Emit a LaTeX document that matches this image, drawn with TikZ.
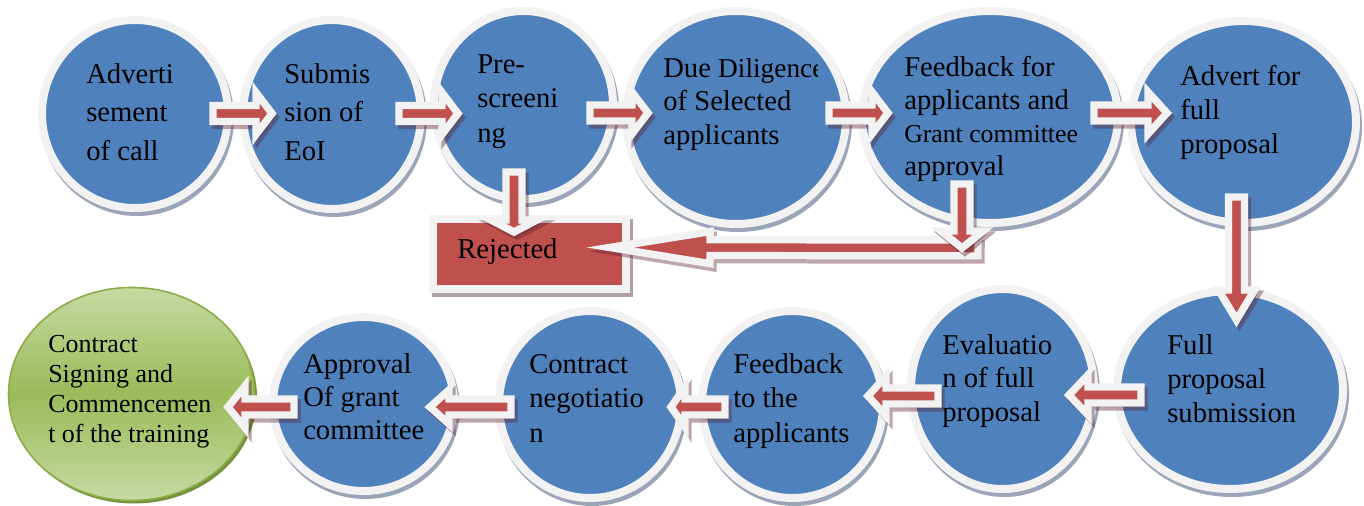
\documentclass[tikz,border=0pt]{standalone}
\usepackage{fontspec}
\setmainfont{Liberation Serif}
\usetikzlibrary{shapes.geometric,calc}
\definecolor{bblue}{HTML}{4F81BD}
\definecolor{ring}{HTML}{F2F2F2}
\definecolor{bshadow}{HTML}{9AA5B8}
\definecolor{ared}{HTML}{C0504D}
\definecolor{ashadow}{HTML}{5A2030}
\definecolor{glight}{HTML}{C6DAA2}
\definecolor{gmid}{HTML}{9BBB59}
\definecolor{gline}{HTML}{8AAD48}
\definecolor{gshadow}{HTML}{76923C}
\definecolor{rshadow}{HTML}{B3A0A0}
\tikzset{
  bub/.style={ellipse, inner sep=0pt, fill=bblue, draw=ring, line width=6pt},
  gbub/.style={ellipse, inner sep=0pt, top color=glight, bottom color=glight, middle color=gmid, draw=gline, line width=1.2pt},
  rejbox/.style={rectangle, inner sep=0pt, fill=ared, draw=ring, line width=6pt, minimum width=144.75pt, minimum height=52.5pt},
  arrowbody/.style={fill=ared, draw=ring, line width=5.6pt, line join=miter, miter limit=12},
  arrowshadow/.style={fill=ashadow, draw=ashadow, line width=5.6pt, line join=miter, miter limit=12, fill opacity=0.4, draw opacity=0.4},
  txt/.style={anchor=north west, inner sep=0pt, align=left, text=black},
}
\newcommand\mybubble[5]{%
  \fill[bshadow] (#2+2,#3+4) ellipse ({#4+4} and {#5+4});
  \node[bub, minimum width=1.5pt*#4, minimum height=1.5pt*#5] (#1) at (#2,#3) {};}
\newcommand\myarrowpoly[5]{%
  \path[#1] ($(#2)!6pt!90:(#4)$) -- ($(#3)!6pt!90:(#4)$) -- ($(#3)!0.75pt*#5!90:(#4)$) -- (#4) -- ($(#3)!0.75pt*#5!-90:(#4)$) -- ($(#3)!6pt!-90:(#4)$) -- ($(#2)!6pt!-90:(#4)$) -- cycle;}
\newcommand\myblockarrow[4]{%
  \coordinate (bS) at #1;
  \coordinate (bT) at #2;
  \coordinate (bB) at ($(bT)!0.75pt*#3!(bS)$);
  \coordinate (sS) at ($(bS)+(3,4)$);
  \coordinate (sB) at ($(bB)+(3,4)$);
  \coordinate (sT) at ($(bT)+(3,4)$);
  \myarrowpoly{arrowshadow}{sS}{sB}{sT}{#4}
  \myarrowpoly{arrowbody}{bS}{bB}{bT}{#4}}
\begin{document}
\begin{tikzpicture}[x=0.75pt,y=-0.75pt]
\fill[white] (0,0) rectangle (1364,506);
\useasboundingbox (0,0) rectangle (1364,506);
% top row bubbles
\mybubble{adv}{135}{114}{93}{94}
\mybubble{sub}{332}{114.5}{89}{94.5}
\mybubble{pre}{523.5}{105}{89.5}{94}
\mybubble{due}{736}{117.5}{110}{106.5}
\mybubble{fb}{990}{117}{128}{106}
\mybubble{afp}{1243.5}{122}{112.5}{101}
% bottom row bubbles
\mybubble{fps}{1230}{390}{113}{99}
\mybubble{eva}{1002.5}{389}{91.5}{100}
\mybubble{fta}{792.5}{404.5}{90.5}{93.5}
\mybubble{cn}{590}{404.5}{91}{93.5}
\mybubble{app}{363.5}{404}{90.5}{87}
\fill[gshadow] (134,397) ellipse (123 and 106.5);
\node[gbub, minimum width=184.5pt, minimum height=159.75pt] (con) at (131.5,394) {};
% rejected box
\fill[rshadow] (432,219) rectangle (633,297);
\node[rejbox] (rej) at (529.5,254) {};
% arrows
\myblockarrow{($(adv)+(78,-0.5)$)}{($(sub)+(-60,-1)$)}{16}{21}
\myblockarrow{($(sub)+(67,-1)$)}{($(pre)+(-65.5,8.5)$)}{16}{21}
\myblockarrow{($(pre)+(66.5,8)$)}{($(due)+(-88,-4.5)$)}{16}{21}
\myblockarrow{($(due)+(93,-4.5)$)}{($(fb)+(-102,-4)$)}{16}{21}
\myblockarrow{($(fb)+(104,-4)$)}{($(afp)+(-76.5,-9)$)}{19}{21}
\myblockarrow{($(pre)+(-9.5,67)$)}{($(rej)+(-15.5,-22)$)}{12}{23}
\coordinate (bend) at ($(fb)+(-28,131)$);
\myblockarrow{($(bend)+(16,0)$)}{($(rej)+(80.5,-6.5)$)}{100}{16}
\myblockarrow{($(fb)+(-28,67)$)}{(bend)}{17}{21}
\myblockarrow{($(afp)+(-7,75)$)}{($(fps)+(6.5,-70)$)}{30}{18}
\myblockarrow{($(fps)+(-89,5)$)}{($(eva)+(66.5,6)$)}{19}{20}
\myblockarrow{($(eva)+(-64.5,7)$)}{($(fta)+(75.5,-8.5)$)}{18}{20}
\myblockarrow{($(fta)+(-67.5,2.5)$)}{($(cn)+(81,2.5)$)}{14}{20}
\myblockarrow{($(cn)+(-79,2.5)$)}{($(app)+(66.5,3)$)}{19}{17}
\myblockarrow{($(app)+(-69.5,3)$)}{($(con)+(96.5,13)$)}{17}{21}
% texts
\node[txt, font=\fontsize{21.5}{28.9}\selectfont] (t1) at (86,56) {\strut Adverti\\sement\\of call};
\node[txt, font=\fontsize{21.5}{28.9}\selectfont] (t2) at (284,56) {\strut Submis\\sion of\\EoI};
\node[txt, font=\fontsize{21.5}{25.9}\selectfont] (t3) at (477,48.9) {\strut Pre-\\screeni\\ng};
\begin{scope}
\clip (600,0) rectangle (817,230);
\node[txt, font=\fontsize{21.5}{25.1}\selectfont] (t4) at (663,53.6) {\strut Due {\fontsize{20.5}{25.1}\selectfont Diligence}\\of Selected\\applicants};
\end{scope}
\node[txt, font=\fontsize{21.5}{24.75}\selectfont] (t5) at (904,52.9) {\strut Feedback for\\applicants and\\{\fontsize{19.3}{24.75}\selectfont Grant committee}\\approval};
\node[txt, font=\fontsize{21.5}{25.5}\selectfont] (t6) at (1180,61.2) {\strut Advert for\\full\\proposal};
\node[anchor=base west, inner sep=0pt, font=\fontsize{21.5}{25.5}\selectfont] (tr) at (457,258) {Rejected};
\node[txt, font=\fontsize{19.5}{22.5}\selectfont] (tg) at (48,331) {\strut Contract\\Signing and\\Commencemen\\t of the training};
\node[txt, font=\fontsize{21.5}{24.75}\selectfont] (ta) at (303,349.9) {\strut Approval\\Of grant\\committee};
\node[txt, font=\fontsize{21.5}{25.9}\selectfont] (tc) at (529,348.9) {\strut Contract\\negotiatio\\n};
\node[txt, font=\fontsize{21.5}{25.9}\selectfont] (tf) at (733,348.9) {\strut Feedback\\to the\\applicants};
\node[txt, font=\fontsize{21.5}{25.1}\selectfont] (te) at (942,330.6) {\strut Evaluatio\\n of full\\proposal};
\node[txt, font=\fontsize{21.5}{25.5}\selectfont] (tp) at (1167,330.2) {\strut Full\\proposal\\submission};
\end{tikzpicture}
\end{document}
